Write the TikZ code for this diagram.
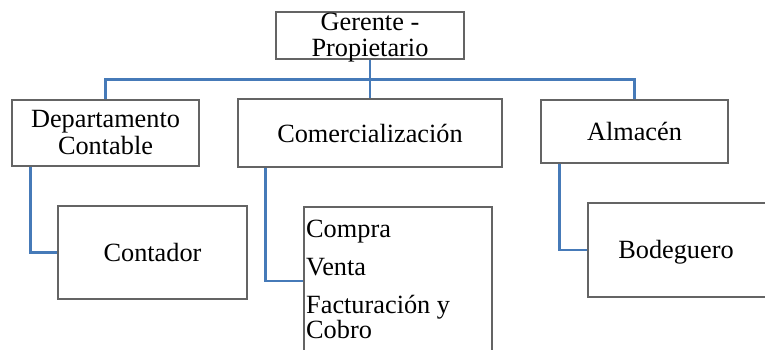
\documentclass[tikz,border=0pt]{standalone}
\usepackage{fontspec}
\setmainfont{Liberation Serif}
\definecolor{conn}{RGB}{70,122,184}
\definecolor{boxline}{RGB}{100,100,100}
\begin{document}
\begin{tikzpicture}[x=1pt,y=-1pt,
  box/.style={draw=boxline,line width=1.2pt,fill=white,inner sep=0pt},
  lbl/.style={anchor=base,inner sep=0pt,font=\fontsize{26.3}{30}\selectfont},
  lbll/.style={anchor=base west,inner sep=0pt,font=\fontsize{26.3}{30}\selectfont},
  link/.style={draw=conn,line width=2.6pt}]
\clip (0,0) rectangle (765,349);
\fill[white] (0,0) rectangle (765,349);
% boxes
\node[box,minimum width=188pt,minimum height=47pt] (top) at (370,35.5) {};
\node[box,minimum width=187pt,minimum height=66pt] (dep) at (105.5,133) {};
\node[box,minimum width=264pt,minimum height=68pt] (com) at (370,133) {};
\node[box,minimum width=187pt,minimum height=63pt] (alm) at (634.5,131.5) {};
\node[box,minimum width=189pt,minimum height=93pt] (cont) at (152.5,252.5) {};
\node[box,minimum width=188pt,minimum height=148pt] (list) at (398,281) {};
\node[box,minimum width=178pt,minimum height=94pt] (bod) at (677,250) {};
% connectors
\draw[link] (top.south) -- (com.north);
\draw[link] (dep.north) -- ++(0,-20) coordinate (hl) -| (alm.north);
\draw[link] ([xshift=19pt]dep.south west) |- (cont.west);
\draw[link] ([xshift=28pt]com.south west) |- (list.west);
\draw[link] ([xshift=19pt]alm.south west) |- (bod.west);
% texts
\node[lbl] (t1) at (370,30) {Gerente -};
\node[lbl] (t2) at (370,56) {Propietario};
\node[lbl] (t3) at (105.5,127) {Departamento};
\node[lbl] (t4) at (105.5,154) {Contable};
\node[lbl] (t5) at (370,142) {Comercialización};
\node[lbl] (t6) at (634.5,140) {Almacén};
\node[lbl] (t7) at (152.5,261) {Contador};
\node[lbll] (t8) at (306,237) {Compra};
\node[lbll] (t9) at (306,275) {Venta};
\node[lbll] (t10) at (306,313) {Facturación y};
\node[lbll] (t11) at (306,338) {Cobro};
\node[lbl] (t12) at (676,258) {Bodeguero};
\end{tikzpicture}
\end{document}
